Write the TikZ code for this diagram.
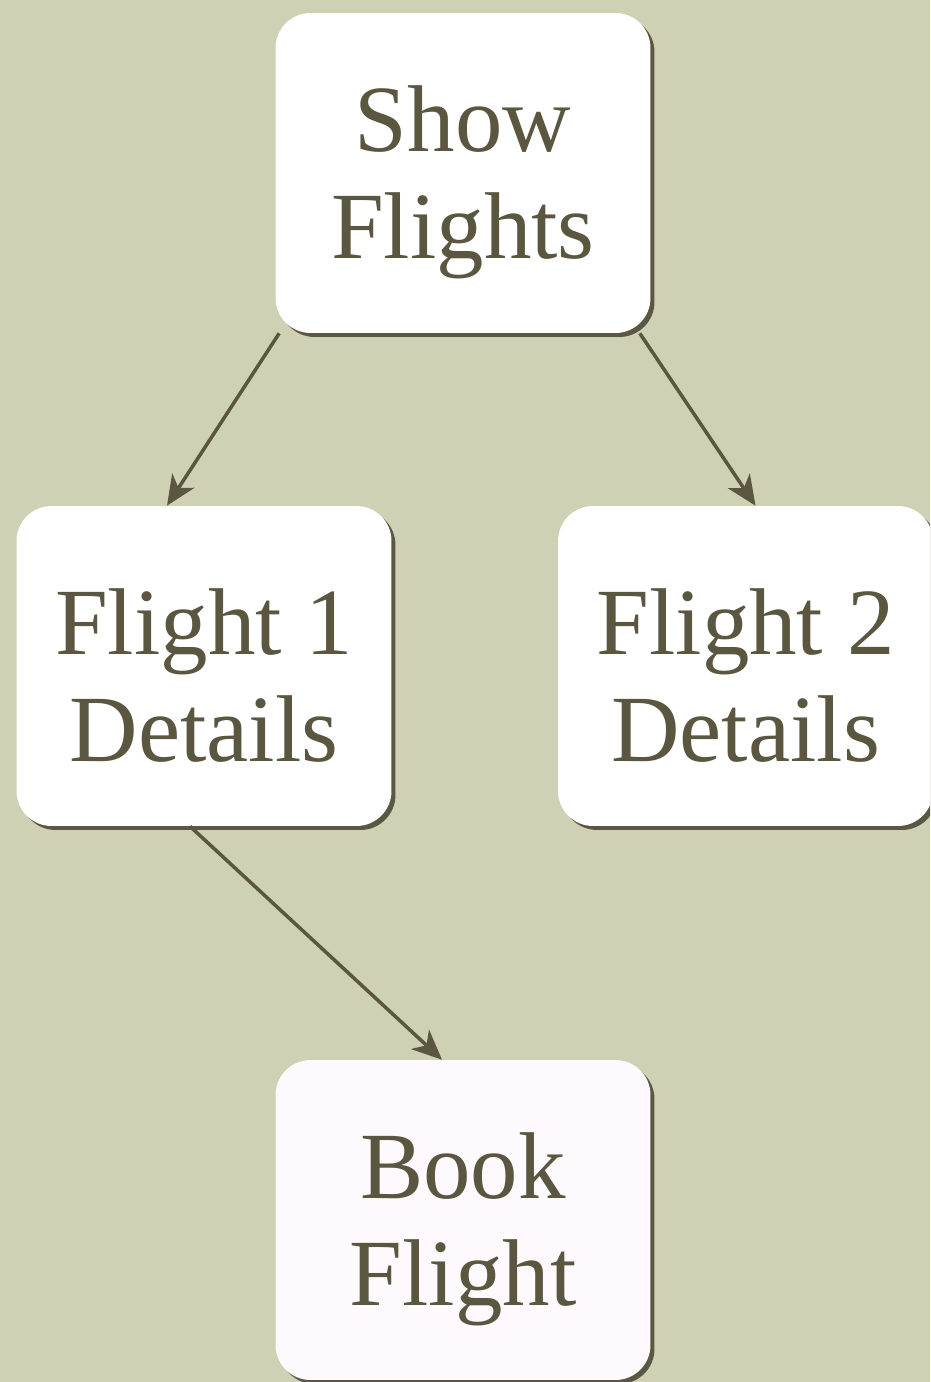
\documentclass[tikz,border=0pt]{standalone}
\usepackage{fontspec}
\setmainfont{Liberation Serif}
\usetikzlibrary{arrows.meta,shadows}
\definecolor{wallcol}{HTML}{CFD1B4}
\definecolor{inkcol}{HTML}{5A5640}
\definecolor{shadecol}{HTML}{4E4B36}
\definecolor{pinkcol}{HTML}{FDF9FD}
\tikzset{
  screen/.style={draw=none,fill=white,rounded corners=0.7cm,
    minimum width=7.5cm,minimum height=6.4cm,align=center,text=inkcol,
    font=\fontsize{54}{61}\selectfont,text height=109pt,
    drop shadow={shadow xshift=0.08cm,shadow yshift=-0.08cm,fill=shadecol,opacity=0.9}},
  flow/.style={draw=inkcol,line width=2pt,-{Stealth[length=17pt,width=15pt,inset=5pt]}}
}
\begin{document}
\begin{tikzpicture}[x=0.02cm,y=-0.02cm]
\useasboundingbox (0,0) rectangle (930,1382);
\clip (0,0) rectangle (930,1382);
\fill[wallcol] (0,0) rectangle (930,1382);
% screens
\node[screen] (show)  at (463, 173) {Show\\Flights};
\node[screen] (first) at (204, 666) {Flight 1\\Details};
\node[screen] (second) at (745.5,666) {Flight 2\\Details};
\node[screen,fill=pinkcol] (book) at (463,1220) {Book\\Flight};
% transitions
\draw[flow] ([xshift=0.08cm]show.south west) -- ([xshift=-0.74cm]first.north);
\draw[flow] ([xshift=-0.22cm]show.south east) -- ([xshift=0.2cm]second.north);
\draw[flow] ([xshift=-0.28cm]first.south) -- ([xshift=-0.42cm]book.north);
\end{tikzpicture}
\end{document}
